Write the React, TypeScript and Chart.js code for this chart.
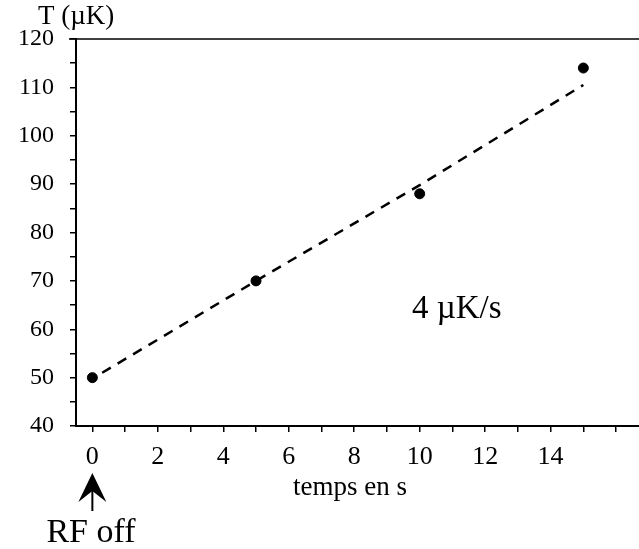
import React, { useEffect, useRef } from "react";
import { Chart, registerables } from "chart.js";

Chart.register(...registerables);

const timesS = [0, 5, 10, 15];
const tempsUK = [50, 70, 88, 114];
const fitTimes = [0.3, 5, 10, 15];
const fitTemps = [51, 70, 89.8, 110.5];
const xTickValues = [0, 1, 2, 3, 4, 5, 6, 7, 8, 9, 10, 11, 12, 13, 14, 15, 16];
const xLabelled = [0, 2, 4, 6, 8, 10, 12, 14];
const yTickValues = [40, 45, 50, 55, 60, 65, 70, 75, 80, 85, 90, 95, 100, 105, 110, 115, 120];
const yLabelled = [40, 50, 60, 70, 80, 90, 100, 110, 120];

const FONT = "'Liberation Serif', 'Times New Roman', serif";

const annotations = {
  id: "annotations",
  afterDraw(chart: any) {
    const { ctx, chartArea, scales } = chart;
    ctx.save();
    ctx.strokeStyle = "#000";
    ctx.lineWidth = 1.5;
    ctx.beginPath();
    ctx.moveTo(chartArea.left - 7, chartArea.top);
    ctx.lineTo(chartArea.right, chartArea.top);
    ctx.stroke();

    ctx.fillStyle = "#000";
    ctx.textBaseline = "alphabetic";
    ctx.textAlign = "left";
    ctx.font = `27px ${FONT}`;
    ctx.fillText("T (\u00b5K)", 38, 24);
    ctx.font = `33px ${FONT}`;
    ctx.fillText("4 \u00b5K/s", 412, 318);
    ctx.font = `27px ${FONT}`;
    ctx.textAlign = "left";
    ctx.fillText("temps en s", 293, 495);
    ctx.font = `34px ${FONT}`;
    ctx.textAlign = "center";
    ctx.fillText("RF off", 91, 542);

    const ax = scales.x.getPixelForValue(0);
    ctx.lineWidth = 2;
    ctx.beginPath();
    ctx.moveTo(ax, 511);
    ctx.lineTo(ax, 488);
    ctx.stroke();
    ctx.beginPath();
    ctx.moveTo(ax, 473);
    ctx.lineTo(ax + 14, 502);
    ctx.lineTo(ax, 491);
    ctx.lineTo(ax - 14, 502);
    ctx.closePath();
    ctx.fill();
    ctx.restore();
  },
};

export default function App() {
  const ref = useRef<HTMLCanvasElement>(null);
  useEffect(() => {
    const chart = new Chart(ref.current!, {
      type: "scatter",
      data: {
        datasets: [
          {
            type: "line",
            data: fitTimes.map((t, i) => ({ x: t, y: fitTemps[i] })),
            borderColor: "#000",
            borderWidth: 2.5,
            borderDash: [10, 8],
            pointRadius: 0,
            fill: false,
          },
          {
            data: timesS.map((t, i) => ({ x: t, y: tempsUK[i] })),
            backgroundColor: "#000",
            borderColor: "#000",
            pointRadius: 5,
          },
        ],
      },
      plugins: [annotations],
      options: {
        animation: false,
        responsive: false,
        layout: { autoPadding: false, padding: { top: 39, right: 0, left: 0, bottom: 0 } },
        plugins: { legend: { display: false }, tooltip: { enabled: false } },
        scales: {
          x: {
            type: "linear",
            min: -0.5,
            max: 16.7,
            afterBuildTicks: (s: any) => {
              s.ticks = xTickValues.map((v) => ({ value: v }));
            },
            afterFit: (s: any) => {
              s.height = 123;
            },
            ticks: {
              autoSkip: false,
              maxRotation: 0,
              padding: 10,
              color: "#000",
              font: { family: FONT, size: 26 },
              callback: (v: any) => (xLabelled.includes(v) ? String(v) : ""),
            },
            grid: { drawOnChartArea: false, tickLength: 6, color: "#000", lineWidth: 1.5 },
            border: { color: "#000", width: 2 },
          },
          y: {
            min: 40,
            max: 120,
            afterBuildTicks: (s: any) => {
              s.ticks = yTickValues.map((v) => ({ value: v }));
            },
            afterFit: (s: any) => {
              s.width = 76;
            },
            ticks: {
              autoSkip: false,
              padding: 16,
              color: "#000",
              font: { family: FONT, size: 24 },
              callback: (v: any) => (yLabelled.includes(v) ? String(v) : ""),
            },
            grid: { drawOnChartArea: false, tickLength: 6, color: "#000", lineWidth: 1.5 },
            border: { color: "#000", width: 2 },
          },
        },
      },
    } as any);
    return () => chart.destroy();
  }, []);
  return (
    <div style={{ position: "fixed", left: 0, top: 0, width: 639, height: 549, background: "#fff" }}>
      <canvas ref={ref} width={639} height={549} style={{ display: "block" }} />
    </div>
  );
}
